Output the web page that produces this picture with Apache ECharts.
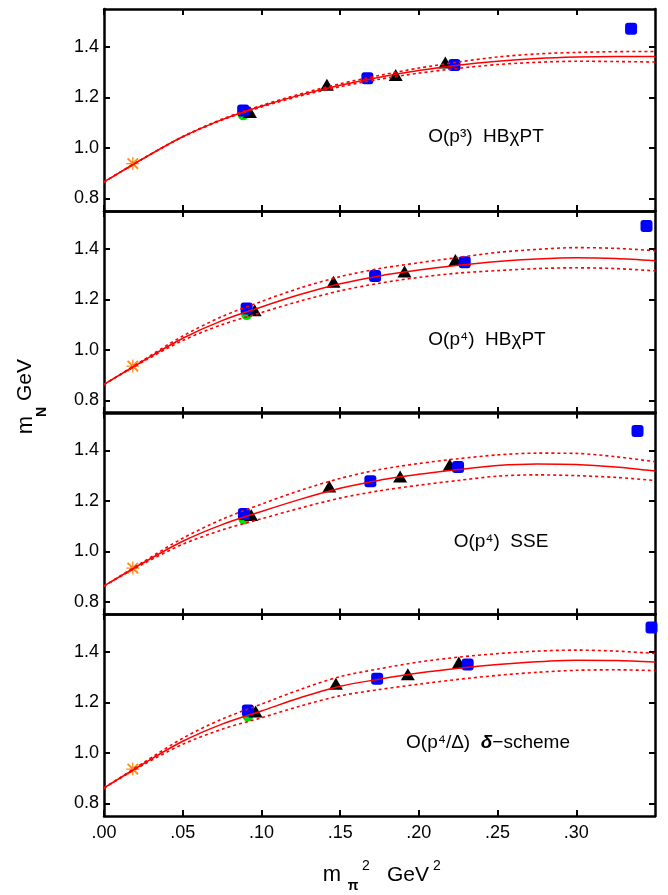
<!DOCTYPE html>
<html>
<head>
<meta charset="utf-8">
<script src="https://cdn.jsdelivr.net/npm/echarts@6/dist/echarts.min.js"></script>
<style>
  html, body { margin: 0; padding: 0; background: #fff; }
  #chart { width: 668px; height: 895px; }
</style>
</head>
<body>
<div id="chart"></div>
<script>
// tick values
var xTicks = [0, 0.05, 0.10, 0.15, 0.20, 0.25, 0.30];
var yTicks = [0.8, 1.0, 1.2, 1.4];

// fit curves and their error bands, every 0.025
var fitX = [0, 0.025, 0.05, 0.075, 0.1, 0.125, 0.15, 0.175, 0.2, 0.225, 0.25, 0.275, 0.3, 0.325, 0.35];

var fitP3 = [0.865, 0.958, 1.044, 1.112, 1.165, 1.210, 1.248, 1.280, 1.306, 1.327, 1.343, 1.354, 1.360, 1.362, 1.362];
var upP3  = [0.865, 0.958, 1.045, 1.114, 1.168, 1.214, 1.254, 1.287, 1.316, 1.340, 1.360, 1.372, 1.378, 1.381, 1.382];
var loP3  = [0.865, 0.958, 1.043, 1.110, 1.162, 1.206, 1.242, 1.272, 1.296, 1.315, 1.330, 1.339, 1.343, 1.342, 1.340];

var fitP4 = [0.863, 0.957, 1.046, 1.116, 1.170, 1.220, 1.262, 1.293, 1.316, 1.335, 1.350, 1.360, 1.365, 1.362, 1.353];
var upP4  = [0.863, 0.960, 1.055, 1.132, 1.192, 1.246, 1.290, 1.322, 1.345, 1.366, 1.386, 1.398, 1.405, 1.402, 1.393];
var loP4  = [0.863, 0.954, 1.037, 1.100, 1.148, 1.194, 1.234, 1.264, 1.287, 1.304, 1.314, 1.322, 1.325, 1.322, 1.313];

var fitSSE = [0.863, 0.955, 1.040, 1.106, 1.158, 1.207, 1.250, 1.282, 1.305, 1.324, 1.340, 1.346, 1.344, 1.334, 1.318];
var upSSE  = [0.863, 0.959, 1.052, 1.127, 1.187, 1.242, 1.289, 1.324, 1.348, 1.367, 1.382, 1.389, 1.388, 1.375, 1.355];
var loSSE  = [0.863, 0.951, 1.028, 1.085, 1.129, 1.172, 1.211, 1.240, 1.262, 1.281, 1.298, 1.303, 1.300, 1.293, 1.281];

var fitDelta = [0.861, 0.957, 1.046, 1.114, 1.166, 1.219, 1.264, 1.292, 1.316, 1.335, 1.350, 1.361, 1.367, 1.366, 1.360];
var upDelta  = [0.861, 0.961, 1.058, 1.134, 1.193, 1.252, 1.302, 1.333, 1.360, 1.379, 1.393, 1.403, 1.407, 1.403, 1.394];
var loDelta  = [0.861, 0.953, 1.034, 1.094, 1.139, 1.186, 1.226, 1.251, 1.272, 1.291, 1.307, 1.319, 1.327, 1.329, 1.326];

// lattice points [m_pi^2, m_N]
var sqP3 = [[0.0884, 1.148], [0.1673, 1.276], [0.2226, 1.328], [0.3348, 1.472]];
var triP3 = [[0.0927, 1.142], [0.1416, 1.250], [0.1853, 1.289], [0.2168, 1.338]];
var grP3 = [[0.0884, 1.131]];
var starP3 = [[0.0183, 0.938]];

var sqP4 = [[0.0906, 1.164], [0.1722, 1.293], [0.2291, 1.347], [0.3446, 1.491]];
var triP4 = [[0.0957, 1.157], [0.1458, 1.270], [0.1909, 1.310], [0.2232, 1.356]];
var grP4 = [[0.0906, 1.140]];
var starP4 = [[0.0183, 0.936]];

var sqSSE = [[0.0889, 1.148], [0.1692, 1.278], [0.2249, 1.334], [0.3389, 1.477]];
var triSSE = [[0.0935, 1.144], [0.1431, 1.257], [0.1881, 1.297], [0.2196, 1.343]];
var grSSE = [[0.0889, 1.128]];
var starSSE = [[0.0183, 0.934]];

var sqDelta = [[0.0914, 1.168], [0.1735, 1.294], [0.2310, 1.350], [0.3478, 1.497]];
var triDelta = [[0.0963, 1.164], [0.1473, 1.274], [0.1930, 1.311], [0.2254, 1.358]];
var grDelta = [[0.0914, 1.146]];
var starDelta = [[0.0183, 0.936]];

var panels = [
    { fit: fitP3, up: upP3, lo: loP3, sq: sqP3, tri: triP3, gr: grP3, star: starP3 },
    { fit: fitP4, up: upP4, lo: loP4, sq: sqP4, tri: triP4, gr: grP4, star: starP4 },
    { fit: fitSSE, up: upSSE, lo: loSSE, sq: sqSSE, tri: triSSE, gr: grSSE, star: starSSE },
    { fit: fitDelta, up: upDelta, lo: loDelta, sq: sqDelta, tri: triDelta, gr: grDelta, star: starDelta }
];

var tops = [9, 211, 412.5, 614];
var panelH = 202;
var font = 'Liberation Sans, Arial, sans-serif';
var asterisk = 'path://M9,0L11,0L11,20L9,20Z M0,9L20,9L20,11L0,11Z M3,1L19,17L17,19L1,3Z M17,1L19,3L3,19L1,17Z';

function zip(xs, ys) {
    return xs.map(function (x, i) { return [x, ys[i]]; });
}

var frame = { show: true, onZero: false, lineStyle: { color: '#000', width: 2.5 } };
var tick = { show: true, inside: true, length: 6, lineStyle: { color: '#000', width: 2 } };

var grids = [], xAxes = [], yAxes = [], series = [];

panels.forEach(function (p, i) {
    grids.push({ left: 104, right: 13, top: tops[i], height: panelH });
    ['bottom', 'top'].forEach(function (pos) {
        xAxes.push({
            gridIndex: i, type: 'value', min: 0, max: 0.35, position: pos,
            axisLine: frame,
            axisTick: Object.assign({ customValues: xTicks }, tick),
            axisLabel: {
                show: pos === 'bottom' && i === 3, customValues: xTicks,
                fontFamily: font, fontSize: 18, color: '#000', margin: 8,
                formatter: function (v) { return v.toFixed(2).replace(/^0/, ''); }
            },
            splitLine: { show: false }
        });
    });
    ['left', 'right'].forEach(function (pos) {
        yAxes.push({
            gridIndex: i, type: 'value', min: 0.75, max: 1.55, position: pos,
            axisLine: frame,
            axisTick: Object.assign({ customValues: yTicks }, tick),
            axisLabel: {
                show: pos === 'left', customValues: yTicks,
                fontFamily: font, fontSize: 18, color: '#000', margin: 5,
                formatter: function (v) { return v.toFixed(1); }
            },
            splitLine: { show: false }
        });
    });

    var ax = { xAxisIndex: i * 2, yAxisIndex: i * 2 };
    series.push(Object.assign({ type: 'scatter', data: p.gr, symbol: 'circle', symbolSize: 11,
        itemStyle: { color: '#00dd00', opacity: 1 }, z: 2 }, ax));
    series.push(Object.assign({ type: 'scatter', data: p.tri, symbol: 'triangle', symbolSize: [14, 12],
        itemStyle: { color: '#000', opacity: 1 }, z: 3 }, ax));
    series.push(Object.assign({ type: 'scatter', data: p.sq, symbol: 'roundRect', symbolSize: 12,
        itemStyle: { color: '#0000ff', opacity: 1 }, z: 4 }, ax));
    series.push(Object.assign({ type: 'scatter', data: p.star, symbol: asterisk, symbolSize: 13,
        itemStyle: { color: '#ff8c1a', opacity: 1 }, z: 4 }, ax));
    series.push(Object.assign({ type: 'line', data: zip(fitX, p.fit), showSymbol: false, smooth: 0.3,
        lineStyle: { color: '#ff0000', width: 1.5 }, z: 6 }, ax));
    series.push(Object.assign({ type: 'line', data: zip(fitX, p.up), showSymbol: false, smooth: 0.3,
        lineStyle: { color: '#ff0000', width: 1.6, type: [3, 3] }, z: 5 }, ax));
    series.push(Object.assign({ type: 'line', data: zip(fitX, p.lo), showSymbol: false, smooth: 0.3,
        lineStyle: { color: '#ff0000', width: 1.6, type: [3, 3] }, z: 5 }, ax));
});

function label(x, y, text, size, extra) {
    return {
        type: 'text', x: x, y: y, rotation: (extra && extra.rotation) || 0, z: 10,
        style: Object.assign({
            text: text, fontFamily: font, fontSize: size, fill: '#000',
            align: 'center', textAlign: 'center', verticalAlign: 'middle', textVerticalAlign: 'middle'
        }, (extra && extra.style) || {})
    };
}

var graphics = [
    label(486, 137, 'O(p³)  HBχPT', 19),
    label(487, 340, 'O(p⁴)  HBχPT', 19),
    label(501, 542, 'O(p⁴)  SSE', 19),
    {
        type: 'text', x: 488, y: 743, z: 10,
        style: {
            text: '{n|O(p⁴/Δ)  }{d|δ}{n|−scheme}',
            align: 'center', textAlign: 'center', verticalAlign: 'middle', textVerticalAlign: 'middle',
            rich: {
                n: { fontFamily: font, fontSize: 19, color: '#000' },
                d: { fontFamily: font, fontSize: 19, color: '#000', fontWeight: 'bold', fontStyle: 'italic' }
            }
        }
    },
    // y title
    label(26, 425, 'm', 22, { rotation: Math.PI / 2 }),
    label(42, 412, 'N', 14, { rotation: Math.PI / 2, style: { fontWeight: 'bold' } }),
    label(25, 380, 'GeV', 21, { rotation: Math.PI / 2 }),
    // x title
    label(332, 875, 'm', 22),
    label(353, 886, 'π', 14, { style: { fontWeight: 'bold' } }),
    label(366, 866, '2', 14),
    label(387, 875, 'GeV', 21, { style: { align: 'left', textAlign: 'left' } }),
    label(437, 866, '2', 14)
];

var option = {
    animation: false,
    backgroundColor: '#fff',
    grid: grids,
    xAxis: xAxes,
    yAxis: yAxes,
    series: series,
    graphic: graphics
};

window.onload = function () {
    var chart = echarts.init(document.getElementById('chart'));
    chart.setOption(option);
};
</script>
</body>
</html>
